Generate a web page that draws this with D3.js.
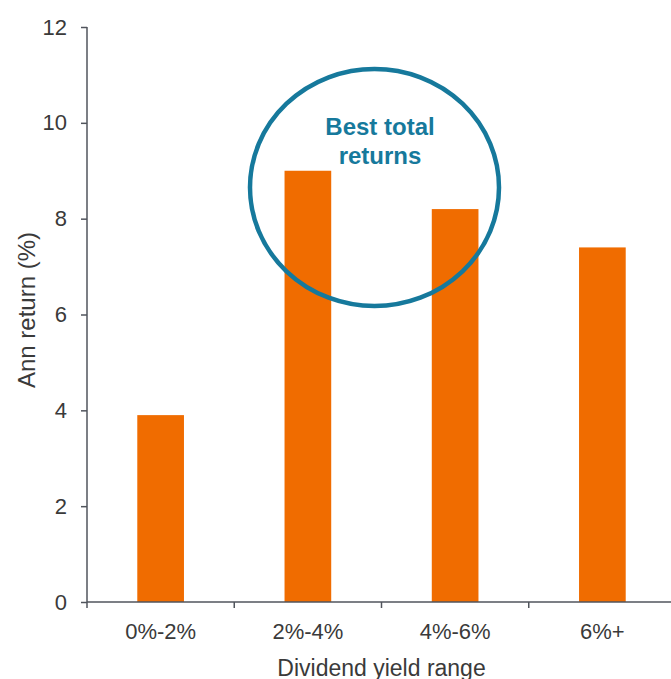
<!DOCTYPE html>
<html lang="en">
<head>
    <meta charset="UTF-8" />
    <title>Ann return by dividend yield range</title>
    <script src="https://d3js.org/d3.v7.min.js"></script>
    <style>
        body { margin: 0; background: #fff; }
        text { font-family: "Liberation Sans", Arial, sans-serif; }
    </style>
</head>
<body>
    <div id="my_chart"></div>
</body>
<script>
    // Data
    var categories = ["0%-2%", "2%-4%", "4%-6%", "6%+"];
    var annReturn = [3.9, 9.0, 8.2, 7.4];
    var yTicks = [0, 2, 4, 6, 8, 10, 12];

    var W = 671, H = 679;
    var plotLeft = 87, plotRight = 676, plotTop = 27, plotBottom = 602;

    const svg = d3.select("#my_chart")
        .append("svg")
        .attr("width", W)
        .attr("height", H);

    // band scale: one band per category, ticks sit on the boundaries
    const xBand = d3.scaleBand().domain(categories).range([plotLeft, plotRight]).padding(0);
    var barW = xBand.bandwidth() * 0.317;
    var barX = d => xBand(d) + (xBand.bandwidth() - barW) / 2;

    const y = d3.scaleLinear().domain([0, 12]).range([plotBottom, plotTop]);

    var axisColor = "#50545c", textColor = "#3a3a3a";

    // Bars
    svg.selectAll("rect.bar")
        .data(categories)
        .enter()
        .append("rect")
        .attr("class", "bar")
        .attr("x", d => barX(d))
        .attr("y", (d, i) => y(annReturn[i]))
        .attr("width", barW)
        .attr("height", (d, i) => y(0) - y(annReturn[i]))
        .attr("fill", "#f06c00");

    // Y axis
    const yAxis = svg.append("g")
        .attr("transform", `translate(${plotLeft},0)`)
        .call(d3.axisLeft(y).tickValues(yTicks).tickSize(6).tickPadding(14).tickSizeOuter(0));
    yAxis.select(".domain").remove();
    yAxis.selectAll(".tick line").attr("stroke", axisColor).attr("stroke-width", 1.5);
    yAxis.selectAll("text").attr("fill", textColor).style("font-size", "22px");

    svg.append("line")
        .attr("x1", plotLeft).attr("x2", plotLeft)
        .attr("y1", plotTop).attr("y2", plotBottom + 6)
        .attr("stroke", axisColor).attr("stroke-width", 1.5);

    // X axis
    const xAxis = svg.append("g")
        .attr("transform", `translate(0,${plotBottom})`)
        .call(d3.axisBottom(xBand).tickSize(0).tickPadding(21));
    xAxis.select(".domain").remove();
    xAxis.selectAll("text").attr("fill", textColor).style("font-size", "22px");

    svg.append("line")
        .attr("x1", plotLeft).attr("x2", plotRight)
        .attr("y1", plotBottom).attr("y2", plotBottom)
        .attr("stroke", axisColor).attr("stroke-width", 1.5);

    // boundary ticks between categories
    svg.selectAll("line.btick")
        .data(categories.slice(1))
        .enter()
        .append("line")
        .attr("class", "btick")
        .attr("x1", d => xBand(d)).attr("x2", d => xBand(d))
        .attr("y1", plotBottom).attr("y2", plotBottom + 6)
        .attr("stroke", axisColor).attr("stroke-width", 1.5);

    // Axis titles
    svg.append("text")
        .attr("x", (plotLeft + plotRight) / 2)
        .attr("y", 676)
        .attr("text-anchor", "middle")
        .attr("fill", textColor)
        .style("font-size", "23px")
        .text("Dividend yield range");

    svg.append("text")
        .attr("transform", "translate(35,310) rotate(-90)")
        .attr("text-anchor", "middle")
        .attr("fill", textColor)
        .style("font-size", "24px")
        .text("Ann return (%)");

    // Annotation circle round the two best bars
    var teal = "#16799c";
    svg.append("ellipse")
        .attr("cx", 374.5)
        .attr("cy", 187.5)
        .attr("rx", 124.5)
        .attr("ry", 118.5)
        .attr("fill", "none")
        .attr("stroke", teal)
        .attr("stroke-width", 4.5);

    svg.append("text")
        .attr("x", 380)
        .attr("y", 135)
        .attr("text-anchor", "middle")
        .attr("fill", teal)
        .style("font-size", "24px")
        .style("font-weight", "bold")
        .text("Best total");

    svg.append("text")
        .attr("x", 380)
        .attr("y", 164)
        .attr("text-anchor", "middle")
        .attr("fill", teal)
        .style("font-size", "24px")
        .style("font-weight", "bold")
        .text("returns");
</script>
</html>
